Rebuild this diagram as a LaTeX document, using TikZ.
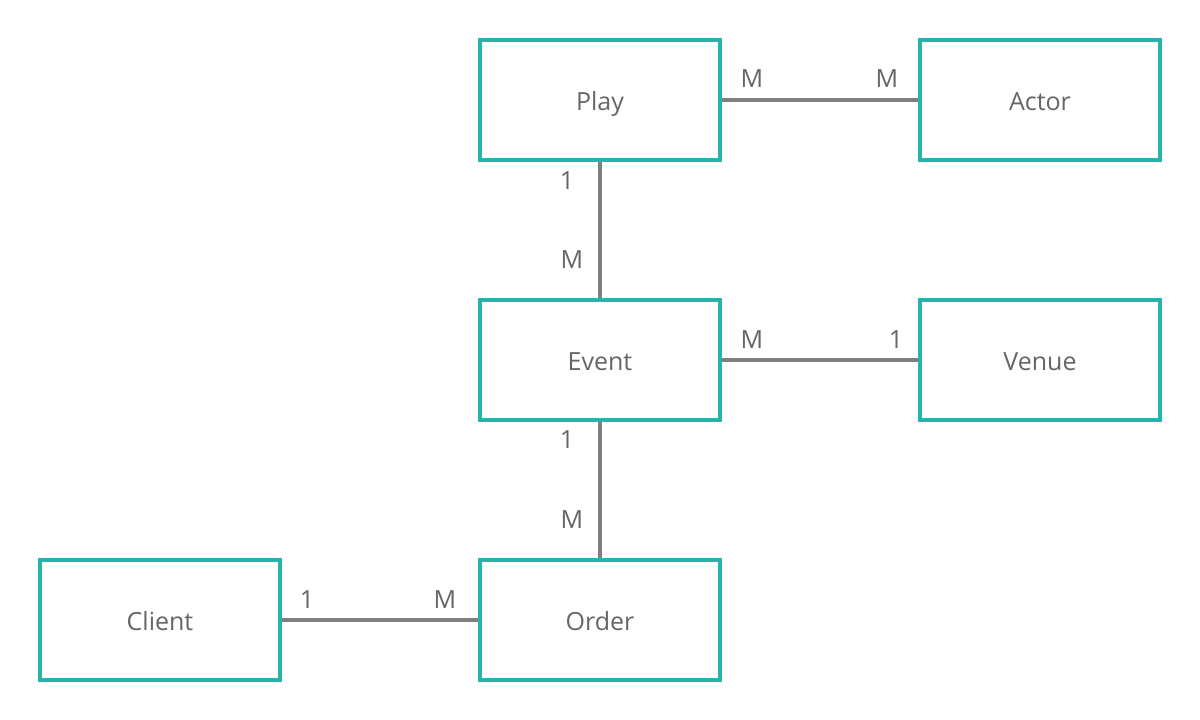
\documentclass[tikz,border=0pt]{standalone}
\usepackage{fontspec}
\setmainfont{Open Sans}
\definecolor{teal1}{HTML}{26B3AC}
\definecolor{line1}{HTML}{808080}
\definecolor{txt1}{HTML}{666666}
\begin{document}
\begin{tikzpicture}[x=1pt,y=-1pt,
  entity/.style={draw=teal1,line width=3.5pt,minimum width=240pt,minimum height=120pt,inner sep=0pt,text=txt1,text height=25pt,text depth=4pt,font=\fontsize{25}{30}\selectfont},
  rel/.style={draw=line1,line width=3.5pt},
  card/.style={text=txt1,font=\fontsize{25}{30}\selectfont,inner sep=0pt}]
\useasboundingbox[fill=white] (0,0) rectangle (1200,720);
\node[entity] (play) at (600,100) {Play};
\node[entity] (actor) at (1040,100) {Actor};
\node[entity] (event) at (600,360) {Event};
\node[entity] (venue) at (1040,360) {Venue};
\node[entity] (client) at (160,620) {Client};
\node[entity] (order) at (600,620) {Order};
\draw[rel] (play.east) -- (actor.west);
\draw[rel] (play.south) -- (event.north);
\draw[rel] (event.east) -- (venue.west);
\draw[rel] (event.south) -- (order.north);
\draw[rel] (client.east) -- (order.west);
\node[card] (l1) at (752,79) {M};
\node[card] (l2) at (887,79) {M};
\node[card] (l3) at (567,181) {1};
\node[card] (l4) at (572,260) {M};
\node[card] (l5) at (752,340) {M};
\node[card] (l6) at (896,340) {1};
\node[card] (l7) at (567,440) {1};
\node[card] (l8) at (572,520) {M};
\node[card] (l9) at (307,600) {1};
\node[card] (l10) at (445,600) {M};
\end{tikzpicture}
\end{document}
